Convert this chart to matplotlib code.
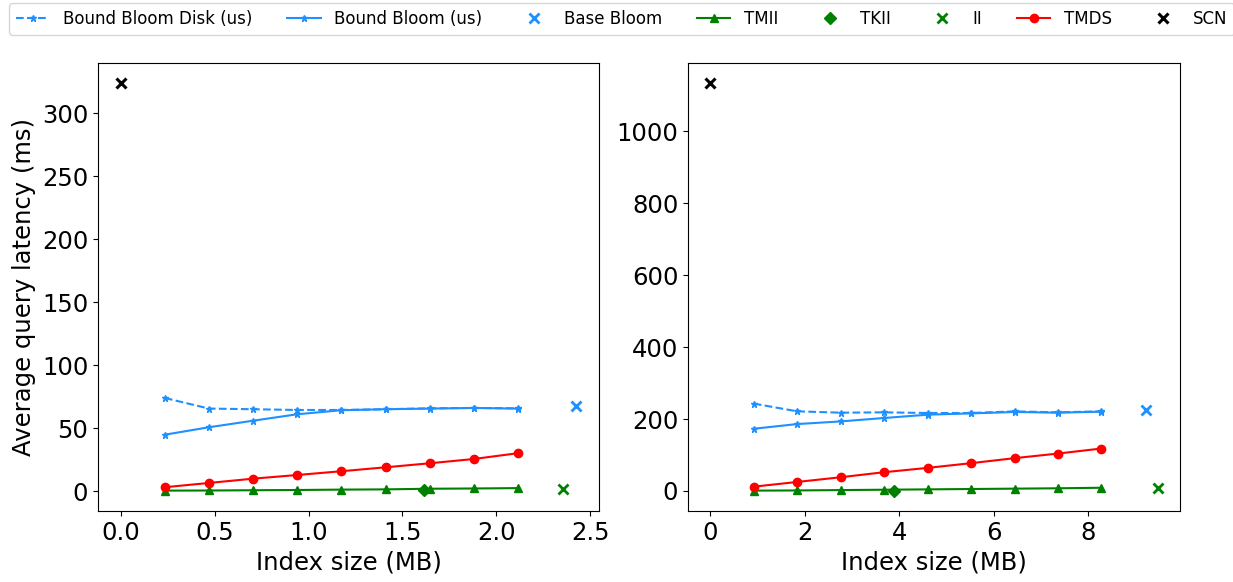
import numpy as np
import matplotlib.pyplot as plt

# Left dataset (smaller index)
x_left = [0.235, 0.47, 0.705, 0.94, 1.175, 1.41, 1.645, 1.88, 2.115]
bb_disk_left = [74.0, 65.6, 65.1, 64.5, 64.5, 65.1, 65.8, 66.1, 65.8]
bb_left = [44.9, 50.8, 56.0, 61.1, 64.3, 65.1, 65.6, 66.1, 65.6]
tmds_left = [3.2, 6.6, 10.0, 12.9, 15.9, 19.0, 22.2, 25.6, 30.2]
tmii_left = [0.5, 0.6, 0.8, 1.0, 1.3, 1.5, 2.0, 2.2, 2.5]
base_left = (2.427, 67.7)
tkii_left = (1.617, 0.8)
ii_left = (2.357, 2.1)
scn_left = (0.0, 323.8)

# Right dataset (larger index)
x_right = [0.92, 1.84, 2.76, 3.68, 4.6, 5.52, 6.44, 7.36, 8.28]
bb_disk_right = [242.7, 221.3, 217.6, 218.5, 216.7, 216.7, 221.2, 218.5, 221.3]
bb_right = [172.9, 186.0, 193.3, 202.8, 212.0, 215.6, 219.5, 217.6, 220.4]
tmds_right = [12.0, 25.1, 38.2, 52.2, 64.2, 77.3, 91.2, 104.0, 118.0]
tmii_right = [1.0, 1.5, 2.5, 3.5, 4.5, 5.5, 6.5, 7.5, 9.0]
base_right = (9.22, 224.0)
tkii_right = (3.886, 1.0)
ii_right = (9.47, 7.4)
scn_right = (0.0, 1133.0)

blue = '#1E90FF'

fig = plt.figure(figsize=(12.33, 5.82), dpi=100)
ax1 = fig.add_axes([0.0795, 0.122, 0.4065, 0.770])
ax2 = fig.add_axes([0.558, 0.122, 0.399, 0.770])


def draw(ax, x, bb_disk, bb, tmds, tmii, base, tkii, ii, scn):
    ax.plot(x, bb_disk, '--', marker='*', color=blue, lw=1.5, ms=5, label='Bound Bloom Disk (us)')
    ax.plot(x, bb, '-', marker='*', color=blue, lw=1.5, ms=5, label='Bound Bloom (us)')
    ax.plot([base[0]], [base[1]], 'x', color=blue, ms=7, mew=2, label='Base Bloom')
    ax.plot(x, tmii, '-', marker='^', color='green', lw=1.5, ms=6, label='TMII')
    ax.plot([tkii[0]], [tkii[1]], 'D', color='green', ms=6, label='TKII')
    ax.plot([ii[0]], [ii[1]], 'x', color='green', ms=7, mew=2, label='II')
    ax.plot(x, tmds, '-', marker='o', color='red', lw=1.5, ms=6, label='TMDS')
    ax.plot([scn[0]], [scn[1]], 'x', color='black', ms=7, mew=2.2, label='SCN')
    ax.tick_params(labelsize=17.5)
    ax.set_xlabel('Index size (MB)', fontsize=17.5)


draw(ax1, x_left, bb_disk_left, bb_left, tmds_left, tmii_left,
     base_left, tkii_left, ii_left, scn_left)
draw(ax2, x_right, bb_disk_right, bb_right, tmds_right, tmii_right,
     base_right, tkii_right, ii_right, scn_right)

ax1.set_ylabel('Average query latency (ms)', fontsize=17.5)

handles, labels = ax1.get_legend_handles_labels()
fig.legend(handles, labels, loc='upper left', ncol=8, fontsize=12,
           bbox_to_anchor=(0.005, 1.0), borderaxespad=0.2, columnspacing=2.1,
           handlelength=2)

fig.savefig('out.png', dpi=100)
